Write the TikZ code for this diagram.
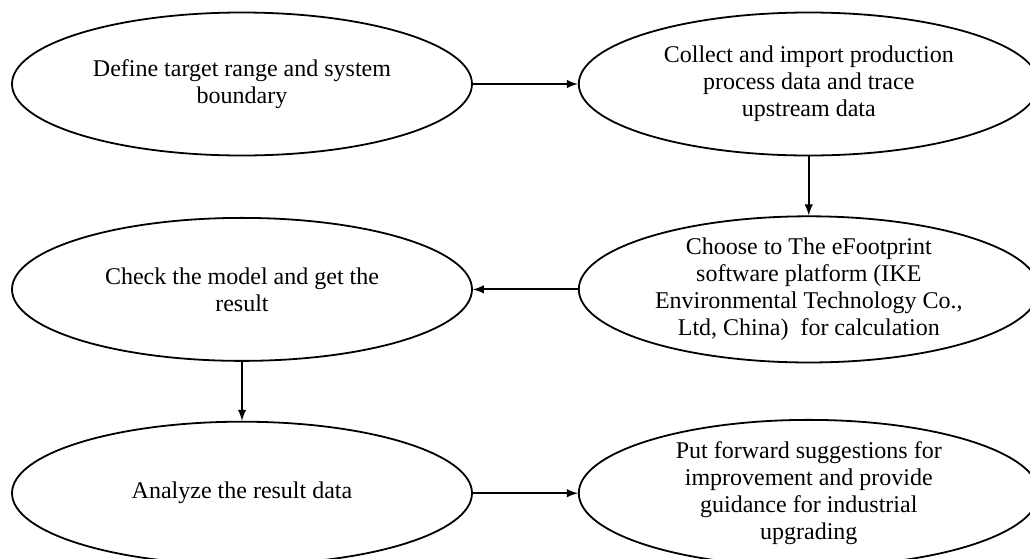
\documentclass[tikz,border=0pt]{standalone}
\usepackage{fontspec}
\setmainfont{Liberation Serif}
\usetikzlibrary{positioning,shapes,arrows}

\begin{document}
\begin{tikzpicture}[x=0.5pt,y=-0.5pt,
  node distance=29.5pt and 52.5pt,
  stepbox/.style={draw, ellipse, line width=0.9pt, minimum width=230pt, minimum height=71.5pt,
    inner sep=0pt, align=center, font=\fontsize{12}{13.6}\selectfont},
  flow/.style={-latex, line width=0.9pt}
  ]
  \useasboundingbox (0,0) rectangle (1030,558);

  \node[stepbox] (define) at (242,84) {Define target range and system\\boundary};
  \node[stepbox, right=of define] (collect) {Collect and import production\\process data and trace\\upstream data};
  \node[stepbox, below=of collect] (choose) {Choose to The eFootprint\\software platform (IKE\\Environmental Technology Co.,\\Ltd, China)\ \ for calculation};
  \node[stepbox, left=of choose] (check) {Check the model and get the\\result};
  \node[stepbox, below=of check] (analyze) {Analyze the result data};
  \node[stepbox, right=of analyze] (suggest) {Put forward suggestions for\\improvement and provide\\guidance for industrial\\upgrading};

  \draw[flow] (define) -- (collect);
  \draw[flow] (collect) -- (choose);
  \draw[flow] (choose) -- (check);
  \draw[flow] (check) -- (analyze);
  \draw[flow] (analyze) -- (suggest);
\end{tikzpicture}
\end{document}
